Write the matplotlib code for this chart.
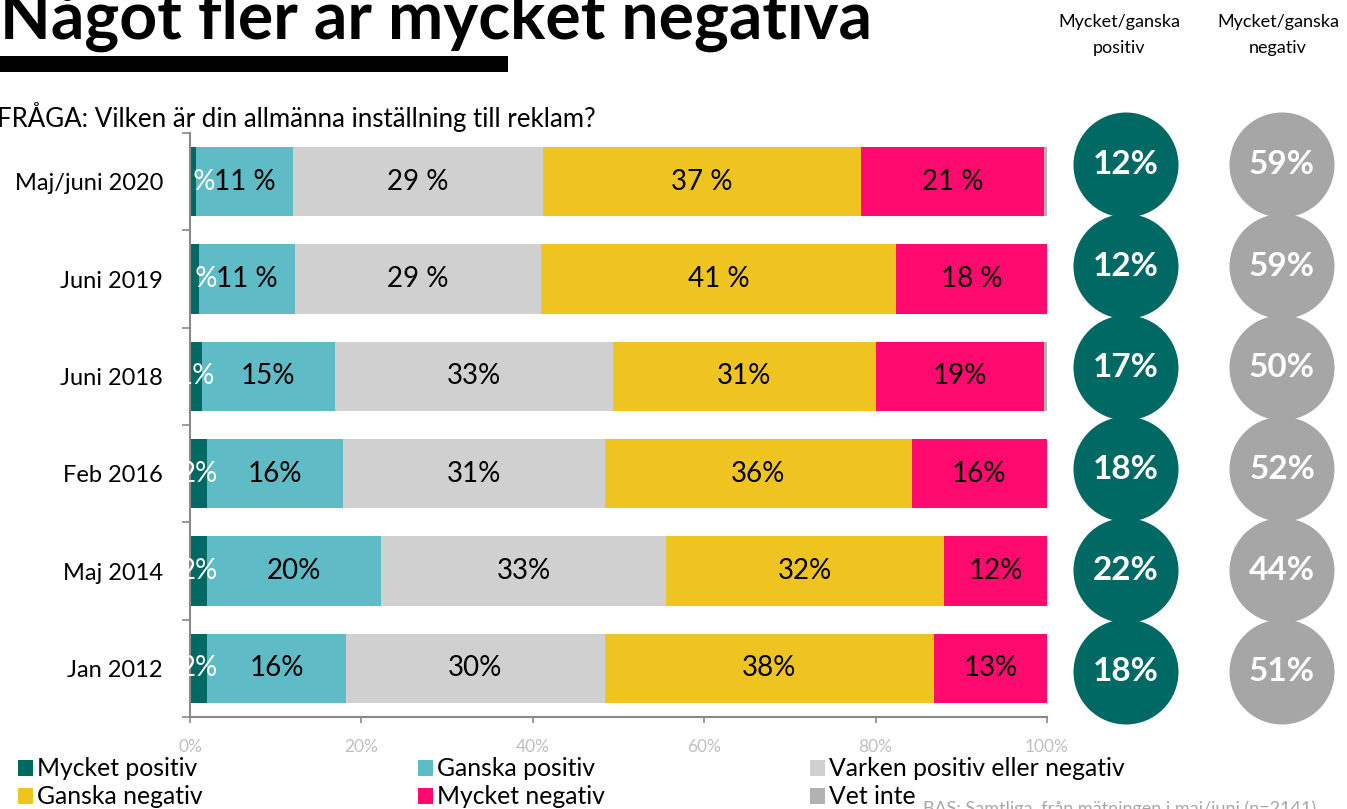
import numpy as np
import matplotlib
matplotlib.use("Agg")
import matplotlib.pyplot as plt
from matplotlib.patches import Rectangle, Circle

plt.rcParams['font.family'] = ['Lato', 'DejaVu Sans']

# ---------------- data ----------------
categories = ["Maj/juni 2020", "Juni 2019", "Juni 2018", "Feb 2016", "Maj 2014", "Jan 2012"]
series_names = ["Mycket positiv", "Ganska positiv", "Varken positiv eller negativ",
                "Ganska negativ", "Mycket negativ", "Vet inte"]
mycket_positiv = [0.7, 1.0, 1.4, 2.0, 2.0, 2.0]
ganska_positiv = [11.3, 11.3, 15.5, 15.9, 20.3, 16.2]
varken = [29.2, 28.6, 32.4, 30.5, 33.3, 30.2]
ganska_negativ = [37.1, 41.5, 30.8, 35.8, 32.4, 38.4]
mycket_negativ = [21.4, 17.6, 19.5, 15.8, 12.0, 13.2]
vet_inte = [0.3, 0.2, 0.4, 0.0, 0.0, 0.0]

lbl_mycket_positiv = ["1 %", "1 %", "1%", "2%", "2%", "2%"]
lbl_ganska_positiv = ["11 %", "11 %", "15%", "16%", "20%", "16%"]
lbl_varken = ["29 %", "29 %", "33%", "31%", "33%", "30%"]
lbl_ganska_negativ = ["37 %", "41 %", "31%", "36%", "32%", "38%"]
lbl_mycket_negativ = ["21 %", "18 %", "19%", "16%", "12%", "13%"]

pos_total = ["12%", "12%", "17%", "18%", "22%", "18%"]
neg_total = ["59%", "59%", "50%", "52%", "44%", "51%"]

x_ticks = [0, 20, 40, 60, 80, 100]
x_ticklabels = ["0%", "20%", "40%", "60%", "80%", "100%"]

colors = ["#006963", "#5FBBC6", "#D0D0D0", "#EFC421", "#FF0A6E", "#B2B2B2"]
circle_pos_color = "#006963"
circle_neg_color = "#A6A6A6"

# ---------------- figure ----------------
W, H = 1347, 809
fig = plt.figure(figsize=(W / 100, H / 100), dpi=100)


def fx(x):
    return x / W


def fy(y):
    return 1 - y / H


ax = fig.add_axes([fx(190), fy(717), 857 / W, 584 / H])

values = [mycket_positiv, ganska_positiv, varken, ganska_negativ, mycket_negativ, vet_inte]
labels = [lbl_mycket_positiv, lbl_ganska_positiv, lbl_varken, lbl_ganska_negativ,
          lbl_mycket_negativ, None]
ypos = np.arange(len(categories))
left = np.zeros(len(categories))
for vals, name, col, lbls in zip(values, series_names, colors, labels):
    vals = np.array(vals)
    ax.barh(ypos, vals, left=left, height=0.71, color=col, label=name,
            edgecolor='none')
    if lbls is not None:
        for i, (v, l) in enumerate(zip(vals, lbls)):
            tc = 'white' if col == colors[0] else 'black'
            ax.text(left[i] + v / 2, ypos[i], l, ha='center', va='center',
                    fontsize=20, color=tc, zorder=5)
    left = left + vals

ax.set_xlim(0, 100)
ax.set_ylim(len(categories) - 0.5, -0.5)
ax.set_xticks(x_ticks)
ax.set_xticklabels(x_ticklabels)
ax.tick_params(axis='x', colors='#898989', labelcolor='#BFBFBF', labelsize=12.5,
               length=4, width=1.2, pad=12)
ax.set_yticks(np.arange(-0.5, len(categories), 1.0))
ax.set_yticklabels([])
ax.set_yticks(ypos, minor=True)
ax.set_yticklabels(categories, minor=True)
ax.tick_params(axis='y', which='major', length=6, width=1.2, color='#898989')
ax.tick_params(axis='y', which='minor', length=0, pad=19.5, labelsize=17)
for s in ['top', 'right']:
    ax.spines[s].set_visible(False)
for s in ['left', 'bottom']:
    ax.spines[s].set_color('#898989')
    ax.spines[s].set_linewidth(1.5)

# ---------------- circles ----------------
cax = fig.add_axes([fx(1060), fy(760), (W - 1060) / W, 660 / H])
cax.set_xlim(1060, W)
cax.set_ylim(760, 100)
cax.axis('off')
for i, (p, n) in enumerate(zip(pos_total, neg_total)):
    cy = 165 + i * 101.4
    cax.add_patch(Circle((1126, cy), 52.5, color=circle_pos_color, lw=0))
    cax.add_patch(Circle((1282, cy), 52.5, color=circle_neg_color, lw=0))
    cax.text(1126, cy, p, ha='center', va='center', fontsize=24,
             fontweight='bold', color='white')
    cax.text(1282, cy, n, ha='center', va='center', fontsize=24,
             fontweight='bold', color='white')

fig.text(fx(1119), fy(35), "Mycket/ganska\npositiv", ha='center', va='center',
         fontsize=13, linespacing=1.75)
fig.text(fx(1278), fy(35), "Mycket/ganska\nnegativ", ha='center', va='center',
         fontsize=13, linespacing=1.75)

# ---------------- titles ----------------
fig.text(fx(0), fy(39), "Något fler är mycket negativa", ha='left', va='baseline',
         fontsize=47.5, fontweight='bold')
fig.add_artist(Rectangle((0, fy(72)), 508 / W, 16 / H, transform=fig.transFigure,
                         color='black', lw=0))
fig.text(fx(-3), fy(117), "FRÅGA: Vilken är din allmänna inställning till reklam?",
         ha='left', va='center', fontsize=18.6)

# ---------------- legend ----------------
leg_cols = [18, 418, 810]
leg_rows = [768, 796]
for k, (name, col) in enumerate(zip(series_names, colors)):
    r, c = divmod(k, 3)
    x0, y0 = leg_cols[c], leg_rows[r]
    fig.add_artist(Rectangle((fx(x0), fy(y0 + 8)), 15 / W, 16 / H,
                             transform=fig.transFigure, color=col, lw=0))
    fig.text(fx(x0 + 19), fy(y0), name, ha='left', va='center', fontsize=17.8)

fig.text(fx(923), fy(800), "BAS: Samtliga, från mätningen i maj/juni (n=2141)",
         ha='left', va='top', fontsize=13, color='#A6A6A6')

fig.savefig("out.png", dpi=100)
